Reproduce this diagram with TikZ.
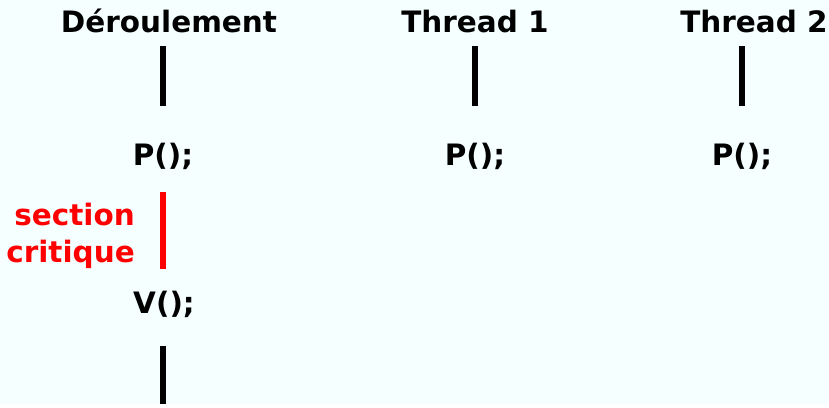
\documentclass[tikz,border=0pt]{standalone}
\usepackage{fontspec}
\setmainfont{DejaVu Sans}
\usepackage{tikz}
\definecolor{fond}{RGB}{245,255,255}
\tikzset{
    texte/.style = {font=\bfseries\fontsize{22.1}{27.75}\selectfont, inner sep=0pt},
    titre/.style = {texte, anchor=base},
    appel/.style = {texte, anchor=base},
    crit/.style = {texte, red, align=right, anchor=east},
    barre/.style = {line width=4.8pt, black},
    barre_crit/.style = {barre, red}
}

\begin{document}
\begin{tikzpicture}[x=0.75pt, y=-0.75pt]
    % fond
    \fill[fond] (0,0) rectangle (829,404);

    % en-tetes des colonnes
    \node [titre] (deroul) at (169,32) {Déroulement};
    \node [titre] (th1) at (475,32) {Thread 1};
    \node [titre] (th2) at (754,32) {Thread 2};

    % appels
    \node [appel] (pd) at (163,165) {P();};
    \node [appel] (p1) at (475,165) {P();};
    \node [appel] (p2) at (742,165) {P();};
    \node [appel] (vd) at (164,313) {V();};

    \node [crit] (sc) at (135,236) {section\\critique};

    % traits
    \coordinate (hd) at (163,46);  \coordinate (bd) at (163,106);
    \coordinate (h1) at (475,46);  \coordinate (b1) at (475,106);
    \coordinate (h2) at (742,46);  \coordinate (b2) at (742,106);
    \coordinate (hc) at (163,192); \coordinate (bc) at (163,269);
    \coordinate (hf) at (163,346); \coordinate (bf) at (163,404);

    \draw [barre] (hd) -- (bd);
    \draw [barre] (h1) -- (b1);
    \draw [barre] (h2) -- (b2);
    \draw [barre_crit] (hc) -- (bc);
    \draw [barre] (hf) -- (bf);
\end{tikzpicture}
\end{document}
